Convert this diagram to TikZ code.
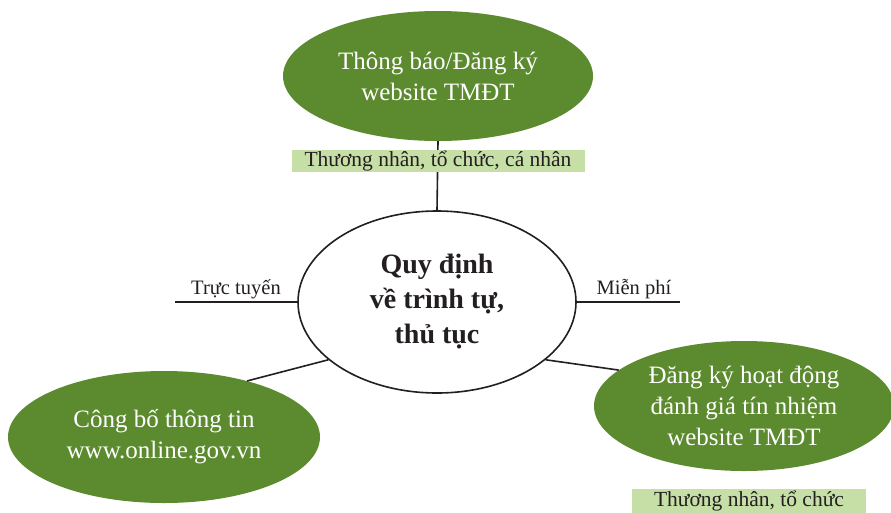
\documentclass[tikz,border=0pt]{standalone}
\usepackage{fontspec}
\setmainfont{Liberation Serif}
\usetikzlibrary{shapes.geometric}
\definecolor{leaf}{HTML}{5C8A2E}
\definecolor{tagfill}{HTML}{C6DFA6}
\definecolor{ink}{HTML}{231F20}
\begin{document}
\begin{tikzpicture}[x=1pt,y=-1pt,
  greenell/.style={ellipse, fill=leaf, draw=none, text=white, align=center,
    font=\fontsize{25}{31}\selectfont, inner sep=0pt},
  centerell/.style={ellipse, draw=ink, line width=1.6pt, fill=white, text=ink, align=center,
    font=\fontsize{28}{35}\bfseries\selectfont, inner sep=0pt},
  tagbox/.style={rectangle, fill=tagfill, draw=none, text=ink, inner sep=0pt,
    font=\fontsize{21.5}{24}\selectfont},
  plainlabel/.style={text=ink, inner sep=0pt, font=\fontsize{20.5}{24}\selectfont},
  link/.style={draw=ink, line width=1.6pt}]
\useasboundingbox (0,0) rectangle (891,512);

\node[greenell, minimum width=310pt, minimum height=130pt] (top) at (438,76)
  {Thông báo/Đăng ký\\website TMĐT};
\node[centerell, minimum width=278pt, minimum height=182pt] (ctr) at (437,302)
  {Quy định\\về trình tự,\\thủ tục};
\node[greenell, minimum width=312pt, minimum height=132pt] (bl) at (164,437)
  {Công bố thông tin\\www.online.gov.vn};
\node[greenell, minimum width=300pt, minimum height=130pt] (br) at (744,406)
  {Đăng ký hoạt động\\đánh giá tín nhiệm\\website TMĐT};

\coordinate (tl) at (175,302);
\coordinate (tr) at (680,302);

\draw[link] (top.south) -- (ctr.north);
\draw[link] (tl) -- (ctr.west);
\draw[link] (ctr.east) -- (tr);
\draw[link] (ctr.208) -- (bl.34);
\draw[link] (ctr.332) -- (br.164);

\node[tagbox, minimum width=293pt, minimum height=22pt] (tag1) at (438,161)
  {Thương nhân, tổ chức, cá nhân};
\node[tagbox, minimum width=234pt, minimum height=24pt] (tag2) at (749,501)
  {Thương nhân, tổ chức};

\node[plainlabel, anchor=base] (lbl1) at (236,294) {Trực tuyến};
\node[plainlabel, anchor=base] (lbl2) at (634,294) {Miễn phí};
\end{tikzpicture}
\end{document}
